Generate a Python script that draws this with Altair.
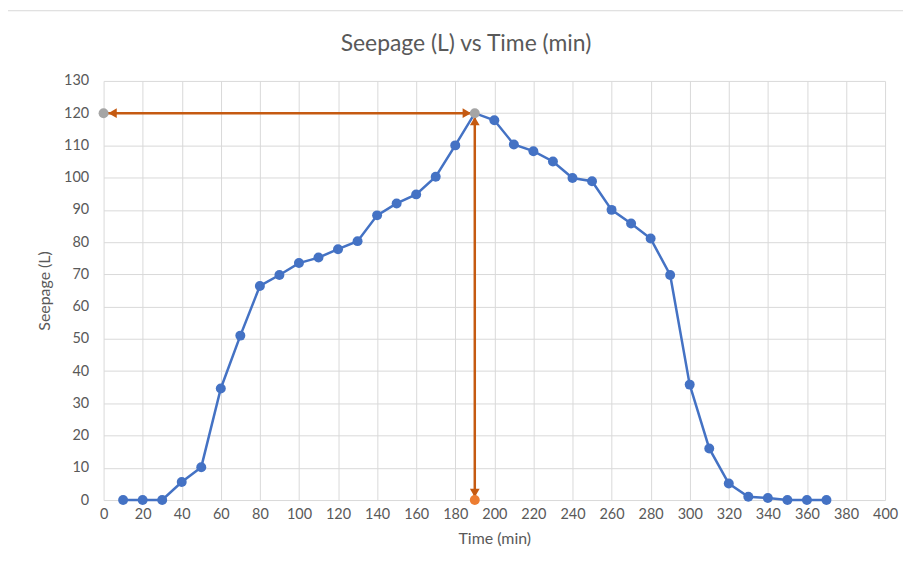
import altair as alt
import pandas as pd

title_text = "Seepage (L) vs Time (min)"
time_min = [10, 20, 30, 40, 50, 60, 70, 80, 90, 100, 110, 120, 130, 140, 150, 160, 170, 180,
            190, 200, 210, 220, 230, 240, 250, 260, 270, 280, 290, 300, 310, 320, 330, 340,
            350, 360, 370]
seepage = [0, 0, 0, 5.6, 10.2, 34.6, 51, 66.4, 69.8, 73.5, 75.2, 77.8, 80.3, 88.3, 92, 94.8,
           100.3, 110, 120, 117.8, 110.3, 108.2, 105, 99.9, 98.9, 90, 85.8, 81.1, 69.8, 35.8,
           16, 5.1, 1, 0.6, 0, 0, 0]
x_ticks = list(range(0, 401, 20))
y_ticks = list(range(0, 131, 10))

peak_time = 190
peak_seepage = 120

df = pd.DataFrame({"t": time_min, "s": seepage})
df_main = df[df.t != peak_time]

xs = alt.Scale(domain=[0, 400], nice=False, zero=False)
ys = alt.Scale(domain=[0, 130], nice=False)

xax = alt.Axis(values=x_ticks, title="Time (min)", grid=True, ticks=False, labelOverlap=False,
               labelFlush=False, domain=False, labelPadding=8, titlePadding=9, format="d",
               tickCount=21)
yax = alt.Axis(values=y_ticks, title="Seepage (L)", grid=True, ticks=False, labelOverlap=False,
               labelFlush=False, domain=False, labelPadding=15, titlePadding=11, format="d",
               tickCount=14)

def X(f):
    return alt.X(f, scale=xs, axis=xax)

def Y(f):
    return alt.Y(f, scale=ys, axis=yax)

line = alt.Chart(df).mark_line(color="#4472C4", strokeWidth=2.5).encode(x=X("t:Q"), y=Y("s:Q"))
pts = alt.Chart(df_main).mark_circle(color="#4472C4", size=100, opacity=1).encode(
    x=X("t:Q"), y=Y("s:Q"))

arrow_color = "#C55A11"
hline_df = pd.DataFrame({"x1": [0], "x2": [peak_time], "y": [peak_seepage]})
vline_df = pd.DataFrame({"x": [peak_time], "y1": [0], "y2": [peak_seepage]})

hrule = alt.Chart(hline_df).mark_rule(color=arrow_color, strokeWidth=2.5).encode(
    x=X("x1:Q"), x2="x2:Q", y=Y("y:Q"))
vrule = alt.Chart(vline_df).mark_rule(color=arrow_color, strokeWidth=2.5).encode(
    x=X("x:Q"), y=Y("y1:Q"), y2="y2:Q")

def head(d, shape, dx=0, dy=0):
    return alt.Chart(d).mark_point(shape=shape, filled=True, color=arrow_color, size=95,
                                   opacity=1, xOffset=dx, yOffset=dy).encode(
        x=X("x:Q"), y=Y("y:Q"))

h_left = head(pd.DataFrame({"x": [0], "y": [peak_seepage]}), "triangle-left", dx=9)
h_right = head(pd.DataFrame({"x": [peak_time], "y": [peak_seepage]}), "triangle-right", dx=-8)
h_up = head(pd.DataFrame({"x": [peak_time], "y": [peak_seepage]}), "triangle-up", dy=8)
h_down = head(pd.DataFrame({"x": [peak_time], "y": [0]}), "triangle-down", dy=-7)

gray_df = pd.DataFrame({"x": [0, peak_time], "y": [peak_seepage, peak_seepage]})
gray = alt.Chart(gray_df).mark_circle(color="#A5A5A5", size=100, opacity=1).encode(
    x=X("x:Q"), y=Y("y:Q"))
orange = alt.Chart(pd.DataFrame({"x": [peak_time], "y": [0]})).mark_circle(
    color="#ED7D31", size=100, opacity=1).encode(x=X("x:Q"), y=Y("y:Q"))

frame = alt.Chart(pd.DataFrame({"a": [0]})).mark_rect(
    fill=None, stroke="#D9D9D9", strokeWidth=1).encode(
    x=alt.value(-97.5), x2=alt.value(810), y=alt.value(-70.5), y2=alt.value(500))

title = alt.Chart(pd.DataFrame({"label": [title_text]})).mark_text(
    font="Lato", fontSize=23, color="#595959", align="center", baseline="middle").encode(
    text="label:N", x=alt.value(364), y=alt.value(-37))

chart = alt.layer(line, pts, hrule, vrule, h_left, h_right, h_up, h_down, gray, orange, frame, title).properties(
    width=785, height=421,
    autosize=alt.AutoSizeParams(type="none"),
    padding={"left": 96, "top": 72, "right": 18, "bottom": 60},
).configure_view(stroke=None).configure_axis(
    gridColor="#D9D9D9", gridWidth=1, labelFont="Lato", titleFont="Lato",
    labelFontSize=14.5, titleFontSize=16, labelColor="#595959", titleColor="#595959",
    titleFontWeight="normal",
)

chart.save("out.html", embed_options={"renderer": "svg", "actions": False})
